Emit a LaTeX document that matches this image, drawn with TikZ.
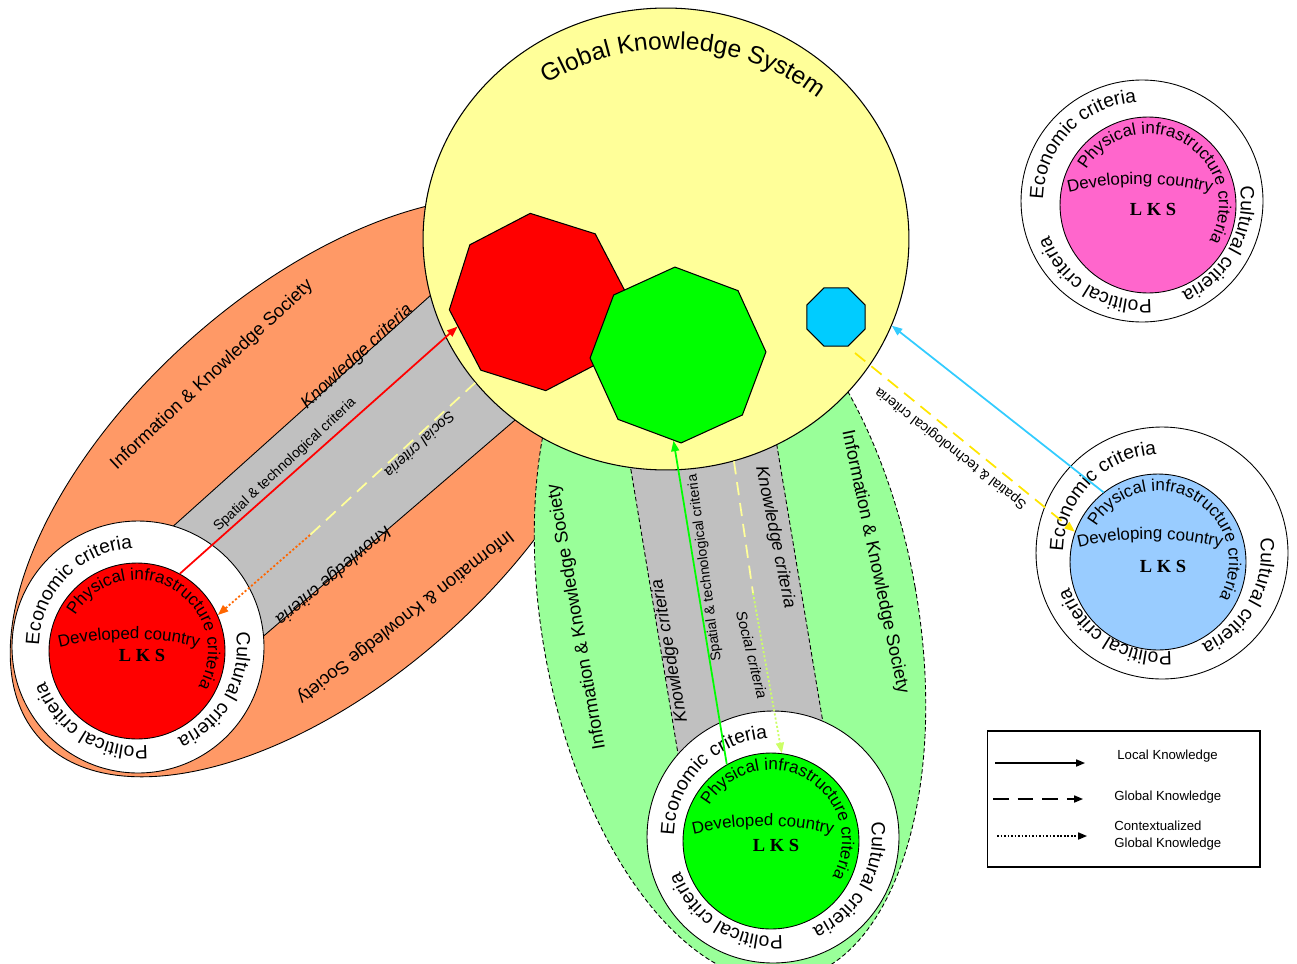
\documentclass[tikz,border=0pt]{standalone}
\usepackage{fontspec}
\setmainfont{Liberation Sans}
\newfontfamily\lksfont{Liberation Serif}
\usetikzlibrary{shapes.geometric,decorations.text,arrows.meta,calc}

\definecolor{societyorange}{RGB}{255,153,102}
\definecolor{societygreen}{RGB}{153,255,153}
\definecolor{bandgrey}{RGB}{192,192,192}
\definecolor{gksyellow}{RGB}{255,255,153}
\definecolor{octgreen}{RGB}{0,255,0}
\definecolor{octcyan}{RGB}{0,204,255}
\definecolor{lksmagenta}{RGB}{255,102,204}
\definecolor{lksblue}{RGB}{153,204,255}
\definecolor{dotorange}{RGB}{255,102,0}
\definecolor{dotlime}{RGB}{204,255,102}
\definecolor{skyline}{RGB}{51,204,255}
\definecolor{dashyellow}{RGB}{255,230,0}

\newcommand{\ringfont}{\fontsize{11pt}{13pt}\selectfont}
\newcommand{\infrafont}{\fontsize{9.7pt}{12pt}\selectfont}
\newcommand{\corefont}{\fontsize{9.6pt}{11pt}\selectfont}
\newcommand{\titlefont}{\fontsize{14pt}{16pt}\selectfont}

\begin{document}
\begin{tikzpicture}[x=0.02cm, y=0.02cm,
  ring/.style={circle, draw, fill=white, line width=0.5pt, inner sep=0pt},
  core/.style={circle, draw, line width=0.5pt, minimum size=3.52cm, inner sep=0pt},
  oct/.style={regular polygon, regular polygon sides=8, draw, line width=0.6pt, inner sep=0pt},
  curved/.style={decorate, decoration={text along path, text align=center, text={#1}}},
  society/.style={font=\fontsize{10.4pt}{12pt}\selectfont, inner sep=0pt},
  crit/.style={font=\fontsize{10pt}{12pt}\selectfont\itshape, inner sep=0pt},
  social/.style={font=\fontsize{8.5pt}{10pt}\selectfont\itshape, inner sep=0pt},
  spatial/.style={font=\fontsize{8pt}{9pt}\selectfont, inner sep=0pt},
  localarr/.style={line width=1pt, -{Triangle[length=6pt,width=4.5pt]}},
  globalarr/.style={line width=1pt, dash pattern=on 7.5pt off 4.5pt},
  contextarr/.style={line width=1pt, dash pattern=on 1.2pt off 1.2pt, -{Triangle[length=6pt,width=4.5pt]}},
  legtxt/.style={font=\fontsize{7.5pt}{9.6pt}\selectfont, inner sep=0pt, anchor=west, align=left}]
  \useasboundingbox (0,-963) rectangle (1297,0);
  % Information & Knowledge Society zones.
  \filldraw[fill=societyorange, line width=0.5pt, rotate around={42:(318,-487)}] (318,-487) ellipse (375 and 195);
  \filldraw[fill=societygreen, line width=0.5pt, dash pattern=on 2.5pt off 1.5pt, rotate around={10:(730,-620)}] (730,-620) ellipse (188 and 365);
  % Criteria bands, their ends hidden under the circles.
  \filldraw[fill=bandgrey, line width=0.5pt] (150,-547) -- (470,-260) -- (550,-390) -- (245,-652) -- cycle;
  \filldraw[fill=bandgrey, line width=0.5pt, dash pattern=on 2.5pt off 1.5pt] (626,-440) -- (771,-410) -- (830,-765) -- (684,-790) -- cycle;
  % Global knowledge system and its octagons.
  \node[ellipse, draw, fill=gksyellow, line width=0.6pt, minimum width=9.72cm, minimum height=9.24cm, inner sep=0pt] (gks) at (666,-239) {};
  \path[curved={|\titlefont|Global Knowledge System}] ($(gks)+(6,-51)+(132:241)$) arc (132:42:241);
  \node[oct, fill=red, minimum size=3.56cm, shape border rotate=-17.5] (redoct) at (538,-302) {};
  \node[oct, fill=octgreen, minimum size=3.52cm, shape border rotate=-20.5] (grnoct) at (678,-355) {};
  \node[oct, fill=octcyan, minimum size=1.26cm] (cyoct) at (836,-317) {};
  % Local knowledge systems: ring of criteria round a coloured core.
  \foreach \n/\ox/\oy/\osz/\ix/\iy/\col/\lbl/\up in {
      red/138/647/5.04/137/651/red/Developed country/12,
      grn/773/837/5.04/771/841/octgreen/Developed country/15,
      mag/1142/201/4.84/1148/205/lksmagenta/Developing country/21,
      blu/1162/553/5.04/1158/562/lksblue/Developing country/23}{
    \node[ring, minimum size=\osz cm] (\n-out) at (\ox,-\oy) {};
    \node[core, fill=\col] (\n-in) at (\ix,-\iy) {};
    \path[curved={|\ringfont|Economic criteria}] ($(\n-out)+(226:99)$) arc (226:46:99);
    \path[curved={|\ringfont|Cultural criteria}] ($(\n-out)+(61:99)$) arc (61:-119:99);
    \path[curved={|\ringfont|Political criteria}] ($(\n-out)+(-32:99)$) arc (-32:-212:99);
    \path[curved={|\infrafont|Physical infrastructure criteria}] ($(\n-in)+(180:71)$) arc (180:-60:71);
    \path[decorate, decoration={text along path, text align=center, text/.expanded={|\noexpand\corefont|\lbl}}]
      ($(\n-in)+(-8,\up-300)+(110:300)$) arc (110:70:300);
    \node[font=\lksfont\bfseries\fontsize{10.5pt}{12pt}\selectfont, inner sep=0pt] (\n-lks) at ($(\n-in)+(5,-4)$) {L K S};
  }
  % Labels of the developed country bands.
  \node[society, rotate=43] (orgsocup) at (212,-375) {Information \& Knowledge Society};
  \node[crit, rotate=43] (orgknowup) at (357,-357) {Knowledge criteria};
  \node[spatial, rotate=43] (orgspatial) at (285,-465) {Spatial \& technological criteria};
  \node[social, rotate=223] (orgsocial) at (420,-445) {Social criteria};
  \node[crit, rotate=220] (orgknowlow) at (333,-575) {Knowledge criteria};
  \node[society, rotate=218] (orgsoclow) at (405,-617) {Information \& Knowledge Society};
  \node[society, rotate=100] (grnsocleft) at (577,-617) {Information \& Knowledge Society};
  \node[crit, rotate=100] (grnknowleft) at (670,-651) {Knowledge criteria};
  \node[spatial, rotate=97.5] (grnspatial) at (705,-568) {Spatial \& technological criteria};
  \node[crit, rotate=-78.5] (grnknowright) at (775,-537) {Knowledge criteria};
  \node[social, rotate=-76] (grnsocial) at (752,-655) {Social criteria};
  \node[society, rotate=-78] (grnsocright) at (875,-562) {Information \& Knowledge Society};
  \node[spatial, rotate=142] (bluspatial) at (951,-448) {Spatial \& technological criteria};
  % Knowledge flows.
  \draw[localarr, red] (red-in.61) -- (redoct.197);
  \coordinate (redbend) at (310,-535);
  \draw[globalarr, gksyellow] (gks.217) -- (redbend);
  \draw[contextarr, dotorange] (redbend) -- (red-in.24);
  \draw[localarr, octgreen] (grn-in.120) -- (grnoct.267);
  \coordinate (grnbend) at (753,-593);
  \draw[globalarr, gksyellow] (gks.-73.5) -- (grnbend);
  \draw[contextarr, dotlime] (grnbend) -- (grn-in.83);
  \draw[localarr, skyline] (blu-in.128) -- (gks.-21);
  \coordinate (blustart) at (855,-353);
  \draw[globalarr, dashyellow, -{Triangle[length=6pt,width=4.5pt]}] (blustart) -- (blu-in.160);
  % Legend.
  \node[draw, line width=0.6pt, minimum width=5.46cm, minimum height=2.72cm, inner sep=0pt] (legend) at (1123.5,-799) {};
  \node[legtxt] (legloc) at (1117,-756) {Local Knowledge};
  \node[legtxt] (legglob) at (1114,-797) {Global Knowledge};
  \node[legtxt] (legctx) at (1114,-836) {Contextualized\\Global Knowledge};
  \coordinate (locfrom) at (995,-763);
  \coordinate (locto) at (1085,-763);
  \coordinate (globfrom) at (993,-799);
  \coordinate (globto) at (1083,-799);
  \coordinate (ctxfrom) at (997,-836);
  \coordinate (ctxto) at (1087,-836);
  \draw[line width=0.8pt, -{Triangle[length=5pt,width=4pt]}] (locfrom) -- (locto);
  \draw[line width=0.8pt, dash pattern=on 9pt off 5pt, -{Triangle[length=5pt,width=4pt]}] (globfrom) -- (globto);
  \draw[line width=0.8pt, dash pattern=on 1pt off 1pt, -{Triangle[length=5pt,width=4pt]}] (ctxfrom) -- (ctxto);
\end{tikzpicture}
\end{document}
